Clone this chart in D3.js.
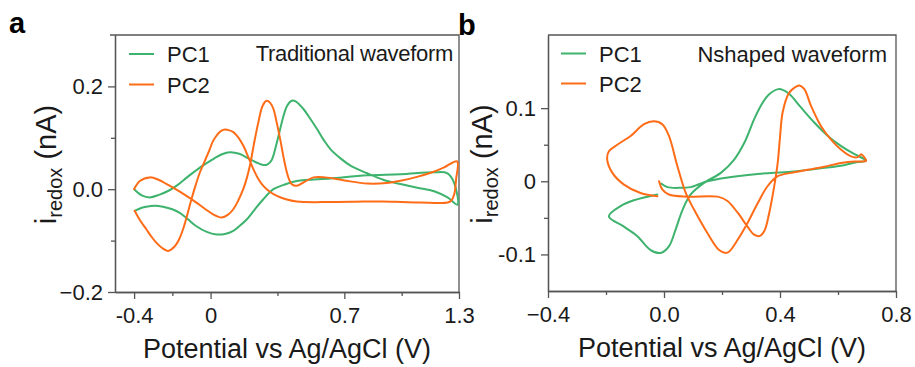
<!DOCTYPE html>
<html><head><meta charset="utf-8">
<script src="https://cdn.jsdelivr.net/npm/d3@7/dist/d3.min.js"></script>
<style>
body{margin:0;background:#fff}
svg{display:block}
text{font-family:"Liberation Sans",Arial,Helvetica,sans-serif}
</style>
</head><body>
<svg id="c" width="915" height="367"></svg>
<script>
// ---------------- DATA ----------------
// Panel a : Traditional waveform
const aPC1V = [-0.40,-0.36,-0.318,-0.27,-0.22,-0.179,-0.12,-0.056,0.02,0.06,0.101,0.15,0.198,0.24,0.277,0.30,0.32,0.347,0.382,0.40,0.425,0.445,0.486,0.52,0.557,0.59,0.627,0.68,0.732,0.819,0.907,0.994,1.082,1.170,1.240,1.292,
  1.274,1.24,1.17,0.994,0.819,0.627,0.451,0.38,0.329,0.276,0.23,0.189,0.15,0.119,0.075,0.031,-0.02,-0.074,-0.12,-0.161,-0.20,-0.249,-0.29,-0.318,-0.36,-0.397];
const aPC1I = [0.0,-0.012,-0.016,-0.011,-0.003,0.0065,0.024,0.042,0.060,0.068,0.072,0.069,0.060,0.052,0.047,0.049,0.057,0.091,0.143,0.162,0.172,0.171,0.156,0.138,0.117,0.097,0.078,0.060,0.046,0.031,0.018,0.010,0.003,-0.004,-0.016,-0.030,
  0.013,0.031,0.033,0.029,0.027,0.021,0.016,0.008,0.0,-0.0195,-0.040,-0.059,-0.072,-0.081,-0.087,-0.088,-0.083,-0.072,-0.058,-0.046,-0.039,-0.034,-0.032,-0.033,-0.036,-0.042];

const aPC2V = [-0.40,-0.37,-0.318,-0.27,-0.23,-0.196,-0.13,-0.074,-0.03,0.014,0.058,0.09,0.119,0.145,0.171,0.19,0.206,0.228,0.25,0.272,0.294,0.312,0.329,0.346,0.364,0.382,0.399,0.412,0.425,0.451,0.486,0.539,0.60,0.70,0.82,0.92,1.00,1.08,1.16,1.22,1.29,
  1.285,1.275,1.26,1.24,1.10,1.00,0.90,0.80,0.627,0.451,0.39,0.347,0.31,0.276,0.25,0.224,0.198,0.171,0.145,0.119,0.095,0.075,0.05,0.031,0.012,-0.004,-0.03,-0.056,-0.078,-0.10,-0.122,-0.144,-0.165,-0.187,-0.222,-0.255,-0.284,-0.31,-0.336,-0.37,-0.397];
const aPC2I = [0.0,0.016,0.023,0.018,0.010,0.003,-0.012,-0.026,-0.038,-0.049,-0.055,-0.050,-0.039,-0.022,0.0,0.022,0.046,0.090,0.130,0.162,0.172,0.168,0.156,0.130,0.098,0.062,0.033,0.018,0.0098,0.0065,0.013,0.023,0.023,0.017,0.011,0.012,0.017,0.024,0.033,0.042,0.054,
  0.020,-0.010,-0.022,-0.026,-0.026,-0.025,-0.024,-0.024,-0.025,-0.024,-0.019,-0.013,-0.005,0.0065,0.020,0.039,0.062,0.085,0.101,0.111,0.115,0.116,0.112,0.104,0.093,0.078,0.055,0.0325,0.008,-0.0195,-0.050,-0.078,-0.098,-0.111,-0.120,-0.114,-0.104,-0.092,-0.078,-0.060,-0.042];

// Panel b : Nshaped waveform
const bPC1V = [-0.01,0.012,0.05,0.092,0.12,0.15,0.208,0.323,0.438,0.547,0.62,0.663,0.697,
  0.692,0.657,0.611,0.565,0.519,0.47,0.43,0.395,0.36,0.335,0.311,0.277,0.242,0.196,0.138,0.092,0.064,0.040,0.017,-0.012,-0.046,-0.092,-0.138,-0.190,
  -0.150,-0.104,-0.023];
const bPC1I = [-0.003,-0.008,-0.009,-0.008,-0.004,0.0,0.0046,0.010,0.013,0.018,0.022,0.026,0.028,
  0.030,0.037,0.048,0.062,0.080,0.102,0.120,0.126,0.118,0.104,0.085,0.0526,0.0297,0.0115,-0.0022,-0.018,-0.039,-0.066,-0.089,-0.098,-0.094,-0.075,-0.062,-0.048,
  -0.034,-0.026,-0.018];

const bPC2V = [-0.017,-0.006,0.017,0.081,0.185,0.219,0.254,0.288,0.311,0.329,0.346,0.363,0.380,0.392,0.40,0.409,0.43,0.45,0.467,0.484,0.507,0.542,0.576,0.611,0.645,0.668,0.68,0.69,0.697,
  0.68,0.657,0.611,0.553,0.50,0.438,0.392,0.357,0.323,0.288,0.254,0.225,0.213,0.19,0.15,0.104,0.075,0.046,0.017,-0.006,-0.035,-0.069,-0.115,-0.161,-0.19,-0.196,-0.178,-0.138,-0.081,-0.023];
const bPC2I = [0.0,-0.011,-0.018,-0.021,-0.021,-0.027,-0.043,-0.062,-0.073,-0.075,-0.068,-0.043,-0.007,0.025,0.060,0.094,0.120,0.128,0.131,0.126,0.103,0.075,0.057,0.043,0.034,0.033,0.037,0.033,0.028,
  0.027,0.027,0.025,0.020,0.016,0.0115,0.0069,-0.0068,-0.030,-0.057,-0.080,-0.096,-0.098,-0.094,-0.071,-0.039,-0.016,0.021,0.062,0.078,0.082,0.078,0.062,0.050,0.041,0.030,0.0115,-0.0045,-0.016,-0.0205];

// Tick values and labels
const aXMajor = [-0.4, 0, 0.7, 1.3];
const aXLabels = ["-0.4", "0", "0.7", "1.3"];
const aXMinor = [-0.2, 0.35, 1.0];
const aYMajor = [0.2, 0.0, -0.2];
const aYLabels = ["0.2", "0.0", "\u22120.2"];
const aYMinor = [0.1, -0.1];

const bXMajor = [-0.4, 0.0, 0.4, 0.8];
const bXLabels = ["\u22120.4", "0.0", "0.4", "0.8"];
const bXMinor = [-0.2, 0.2, 0.6];
const bYMajor = [0.1, 0, -0.1];
const bYLabels = ["0.1", "0", "-0.1"];
const bYMinor = [0.05, -0.05];

const seriesNames = ["PC1", "PC2"];
const titles = ["Traditional waveform", "Nshaped waveform"];
const xTitle = "Potential vs Ag/AgCl (V)";

// ---------------- DRAW ----------------
const GREEN = "#3db36d", ORANGE = "#ff6c17", AX = "#555", TXT = "#1a1a1a";
const svg = d3.select("#c");

function zip(V, I) { return V.map((v, i) => [v, I[i]]); }

function panel(o) {
  const x = d3.scaleLinear().domain(o.xd).range([o.L, o.R]);
  const y = d3.scaleLinear().domain(o.yd).range([o.B, o.T]);
  const g = svg.append("g");

  g.append("path").attr("d", `M${o.topStart},${o.T}H${o.R}V${o.B}`)
    .attr("fill", "none").attr("stroke", AX).attr("stroke-width", 1.3);

  function styleAxis(sel) {
    sel.select(".domain").attr("stroke", AX).attr("stroke-width", 1.3);
    sel.selectAll(".tick line").attr("stroke", AX).attr("stroke-width", 1.3);
    sel.selectAll("text").attr("fill", TXT).style("font-size", "22px")
      .style("font-family", '"Liberation Sans",Arial,sans-serif');
  }
  const xg = g.append("g").attr("transform", `translate(0,${o.B})`)
    .call(d3.axisBottom(x).tickValues(o.xMaj).tickSize(7).tickSizeOuter(0).tickPadding(8)
      .tickFormat((d, i) => o.xLab[i]));
  styleAxis(xg);
  const xm = g.append("g").attr("transform", `translate(0,${o.B})`)
    .call(d3.axisBottom(x).tickValues(o.xMin).tickSize(4).tickSizeOuter(0).tickFormat(""));
  styleAxis(xm);
  const yg = g.append("g").attr("transform", `translate(${o.L},0)`)
    .call(d3.axisLeft(y).tickValues(o.yMaj).tickSize(7).tickSizeOuter(0).tickPadding(5)
      .tickFormat((d, i) => o.yLab[i]));
  styleAxis(yg);
  const ym = g.append("g").attr("transform", `translate(${o.L},0)`)
    .call(d3.axisLeft(y).tickValues(o.yMin).tickSize(4).tickSizeOuter(0).tickFormat(""));
  styleAxis(ym);

  const line = d3.line().x(d => x(d[0])).y(d => y(d[1])).curve(d3.curveCatmullRom.alpha(0.5));
  o.series.forEach((s, k) => {
    g.append("path").datum(s).attr("d", line).attr("fill", "none")
      .attr("stroke", [GREEN, ORANGE][k]).attr("stroke-width", 2)
      .attr("stroke-linejoin", "round").attr("stroke-linecap", "round");
  });

  seriesNames.forEach((n, k) => {
    const ly = o.legY[k];
    g.append("line").attr("x1", o.legX).attr("x2", o.legX + 25).attr("y1", ly).attr("y2", ly)
      .attr("stroke", [GREEN, ORANGE][k]).attr("stroke-width", 2);
    g.append("text").attr("x", o.legX + 38).attr("y", ly + 8).attr("fill", TXT)
      .style("font-size", "22px").text(n);
  });
  g.append("text").attr("x", o.annX).attr("y", o.annY).attr("text-anchor", "end")
    .attr("fill", TXT).style("font-size", "22px").style("letter-spacing", o.annLS).text(o.title);

  g.append("text").attr("x", (o.L + o.R) / 2).attr("y", o.xtY).attr("text-anchor", "middle")
    .attr("fill", TXT).style("font-size", "27px").text(xTitle);
  const yt = g.append("text").attr("transform", `translate(${o.ytX},${(o.T + o.B) / 2 + 1}) rotate(-90)`)
    .attr("text-anchor", "middle").attr("fill", TXT).style("font-size", "29px");
  yt.append("tspan").text("i");
  yt.append("tspan").attr("dy", 6).style("font-size", "20px").text("redox");
  yt.append("tspan").attr("dy", -6).text(" (nA)");

  g.append("text").attr("x", o.letX).attr("y", o.letY).attr("fill", "#000")
    .style("font-size", "29px").style("font-weight", "bold").text(o.letter);
}

panel({
  L: 115, R: 459, T: 35, B: 292, topStart: 110,
  xd: [-0.5, 1.3], yd: [-0.2, 0.3],
  xMaj: aXMajor, xLab: aXLabels, xMin: aXMinor,
  yMaj: aYMajor, yLab: aYLabels, yMin: aYMinor,
  series: [zip(aPC1V, aPC1I), zip(aPC2V, aPC2I)],
  legX: 129, legY: [54, 84.5],
  title: titles[0], annX: 453, annY: 61, annLS: "-0.3px",
  xtY: 358, ytX: 56, letter: "a", letX: 9, letY: 33
});
panel({
  L: 548, R: 896, T: 35, B: 291, topStart: 548,
  xd: [-0.4, 0.8], yd: [-0.15, 0.2],
  xMaj: bXMajor, xLab: bXLabels, xMin: bXMinor,
  yMaj: bYMajor, yLab: bYLabels, yMin: bYMinor,
  series: [zip(bPC1V, bPC1I), zip(bPC2V, bPC2I)],
  legX: 561, legY: [53.5, 83.5],
  title: titles[1], annX: 887, annY: 62, annLS: "0px",
  xtY: 357, ytX: 492, letter: "b", letX: 458, letY: 35
});
</script>
</body></html>
